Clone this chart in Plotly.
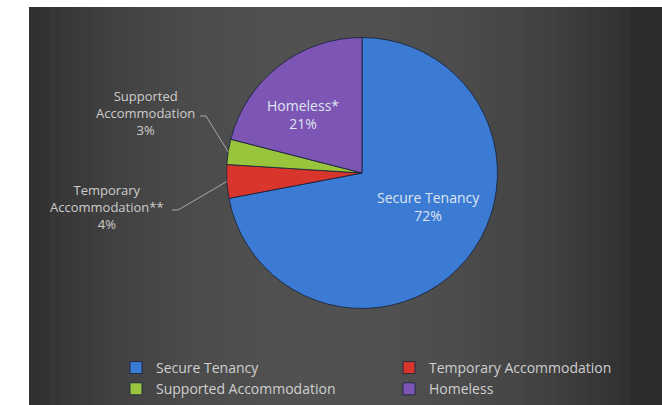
import math
import plotly.graph_objects as go

# ---- data ----
categories = ["Secure Tenancy", "Temporary Accommodation", "Supported Accommodation", "Homeless"]
values = [72, 4, 3, 21]
slice_labels = ["Secure Tenancy", "Temporary<br>Accommodation**", "Supported<br>Accommodation", "Homeless*"]
colors = ["#3c7bd4", "#d8352c", "#99c53c", "#7d56b5"]

# ---- geometry (pixels) ----
W, H = 662, 405
ML, MT = 29, 7
PW, PH = W - ML, H - MT


def px(x):
    return (x - ML) / PW


def py(y):
    return (H - y) / PH


CX, CY, R = 362, 173, 135.5

total = sum(values)
pct = [round(100 * v / total) for v in values]
texts = [f"{lab}<br>{p}%" for lab, p in zip(slice_labels, pct)]

fig = go.Figure(
    go.Pie(
        labels=categories,
        values=values,
        textinfo="none",
        sort=False,
        direction="clockwise",
        rotation=0,
        marker=dict(colors=colors, line=dict(color="rgba(25,35,60,0.85)", width=1)),
        domain=dict(x=[px(CX - R), px(CX + R)], y=[py(CY + R), py(CY - R)]),
        hoverinfo="label+percent",
    )
)

# ---- background gradient (decoration) ----
shapes = []
N = 60
for i in range(N):
    t = (i + 0.5) / N
    b = int(round(45 + 36 * (math.sin(math.pi * min(1.0, t / 0.95)) ** 0.7)))
    shapes.append(dict(type="rect", xref="paper", yref="paper", x0=i / N, x1=(i + 1) / N + 0.002,
                       y0=0, y1=1, line=dict(width=0), fillcolor=f"rgb({b},{b},{b})", layer="below"))

# ---- slice labels (inside ones centred in slice, outside ones with leader lines) ----
annotations = []
inside_pos = {0: (428, 207), 3: (303, 114)}
outside_pos = {1: (107, 207, 172), 2: (145, 113, 200)}  # centre x, centre y, leader start x
cum = 0.0
for i, v in enumerate(values):
    mid = (cum + v / 2) / total * 2 * math.pi
    cum += v
    if i in inside_pos:
        lx, ly = inside_pos[i]
        annotations.append(dict(x=px(lx), y=py(ly), xref="paper", yref="paper", text=texts[i],
                                showarrow=False, xanchor="center", yanchor="middle", align="center",
                                font=dict(family="Open Sans", size=14, color="#dfe5ef")))
    else:
        lx, ly, sx = outside_pos[i]
        ex = CX + R * math.sin(mid)
        ey = CY - R * math.cos(mid)
        annotations.append(dict(x=px(lx), y=py(ly), xref="paper", yref="paper", text=texts[i],
                                showarrow=False, xanchor="center", yanchor="middle", align="center",
                                font=dict(family="Open Sans", size=13, color="#cdcdcd")))
        shapes.append(dict(type="path", xref="paper", yref="paper",
                           path=f"M{px(sx)},{py(ly + 3)} L{px(sx + 6)},{py(ly + 3)} L{px(ex)},{py(ey)}",
                           line=dict(color="#a8a8a8", width=1)))

fig.update_layout(
    width=W, height=H,
    margin=dict(l=ML, r=0, t=MT, b=0),
    paper_bgcolor="white",
    shapes=shapes,
    annotations=annotations,
    showlegend=True,
    legend=dict(orientation="h", x=px(116), y=py(352), xanchor="left", yanchor="top",
                entrywidth=228, entrywidthmode="pixels", bgcolor="rgba(0,0,0,0)",
                font=dict(family="Open Sans", size=14, color="#cfcfcf"), traceorder="normal"),
)

fig.write_html("out.html", config={"displayModeBar": False},
               post_script="document.body.style.margin='0';document.body.style.overflow='hidden';")
